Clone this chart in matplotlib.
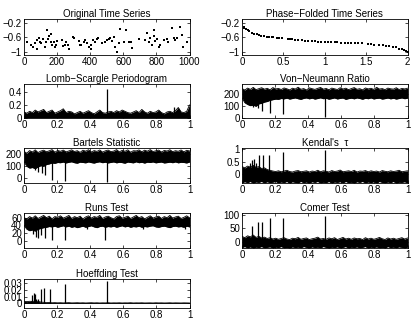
import matplotlib
matplotlib.use("Agg")
import matplotlib.pyplot as plt
import numpy as np

plt.rcParams['font.family'] = ['Liberation Sans', 'DejaVu Sans']
plt.rcParams['font.size'] = 7

# ---- data ----
# original time series (time, magnitude)
ts_t = [16, 20, 40, 56, 64, 76, 80, 90, 96, 104, 112, 124, 131, 137, 145, 151, 161, 165,
        171, 181, 187, 191, 201, 231, 237, 245, 251, 265, 271, 297, 305, 331, 341, 347,
        361, 371, 382, 392, 402, 406, 418, 432, 442, 448, 472, 492, 502, 512, 518, 532,
        542, 552, 562, 572, 582, 602, 618, 633, 647, 653, 693, 733, 743, 753, 763, 773,
        783, 787, 793, 803, 813, 823, 843, 863, 873, 894, 904, 914, 924, 944, 954, 960, 984]
ts_m = [-0.72, -0.72, -0.80, -0.86, -0.77, -0.68, -0.91, -0.61, -0.72, -0.77, -0.65, -0.86,
        -0.72, -0.40, -0.65, -0.56, -0.52, -0.74, -0.80, -0.72, -0.86, -0.82, -0.71, -0.68,
        -0.83, -0.82, -0.72, -0.80, -0.91, -0.59, -0.61, -0.71, -0.82, -0.80, -0.72, -0.68,
        -0.77, -0.86, -0.91, -0.80, -0.68, -0.72, -0.65, -0.63, -0.77, -0.74, -0.68, -0.65,
        -0.63, -0.71, -0.59, -0.86, -1.02, -0.77, -0.36, -0.74, -0.40, -0.72, -0.74, -0.89,
        -0.65, -0.68, -0.47, -0.72, -0.63, -0.82, -0.56, -0.40, -0.71, -0.65, -0.86, -0.80,
        -0.68, -0.65, -0.72, -0.34, -0.63, -0.68, -0.61, -0.31, -0.54, -0.86, -0.74]

# phase-folded series
pf_x = [0.02, 0.03, 0.05, 0.07, 0.09, 0.12, 0.15, 0.18, 0.20, 0.23, 0.26, 0.30, 0.33, 0.36,
        0.38, 0.42, 0.45, 0.48, 0.55, 0.58, 0.61, 0.64, 0.68, 0.72, 0.76, 0.80, 0.84, 0.88,
        0.92, 0.96, 1.00, 1.04, 1.08, 1.12, 1.15, 1.20, 1.24, 1.28, 1.32, 1.36, 1.40, 1.45,
        1.52, 1.56, 1.60, 1.66, 1.70, 1.74, 1.78, 1.82, 1.86, 1.90, 1.93, 1.96, 1.98, 2.00]
pf_y = [-0.30, -0.33, -0.37, -0.40, -0.43, -0.47, -0.50, -0.52, -0.54, -0.55, -0.56, -0.58,
        -0.59, -0.60, -0.60, -0.61, -0.62, -0.62, -0.65, -0.66, -0.66, -0.67, -0.68, -0.68,
        -0.69, -0.70, -0.70, -0.71, -0.72, -0.72, -0.72, -0.73, -0.73, -0.74, -0.74, -0.75,
        -0.75, -0.76, -0.76, -0.76, -0.77, -0.77, -0.78, -0.79, -0.80, -0.81, -0.82, -0.83,
        -0.85, -0.86, -0.88, -0.91, -0.93, -0.96, -0.99, -1.02]

# noisy periodograms: upper / lower edge of the black band, evenly spaced in frequency
ls_hi = [0.09, 0.07, 0.10, 0.08, 0.12, 0.09, 0.11, 0.13, 0.08, 0.10, 0.12, 0.07, 0.09, 0.11, 0.14,
         0.08, 0.10, 0.09, 0.06, 0.08, 0.10, 0.07, 0.09, 0.11, 0.08, 0.06, 0.09, 0.12, 0.08, 0.07,
         0.09, 0.10, 0.08, 0.11, 0.09, 0.12, 0.10, 0.08, 0.07, 0.09, 0.11, 0.08, 0.13, 0.09, 0.07,
         0.10, 0.08, 0.09, 0.12, 0.08, 0.06, 0.09, 0.10, 0.08, 0.11, 0.16, 0.09, 0.08, 0.10, 0.20]
ls_lo = [0.0] * 60
ls_sf, ls_sv = [0.5, 0.905], [0.45, 0.17]

vn_hi = [248, 236, 252, 241, 258, 239, 247, 255, 243, 250, 238, 256, 245, 249, 240, 253, 246, 237,
         251, 244, 259, 242, 248, 236, 254, 247, 241, 250, 257, 243, 249, 238, 252, 246, 240, 255,
         244, 251, 239, 248, 256, 242, 247, 237, 253, 245, 250, 241, 258, 244, 248, 239, 252, 246,
         243, 255, 240, 249, 245, 251]
vn_lo = [170, 130, 115, 105, 110, 100, 120, 125, 135, 140, 150, 155, 160, 158, 165, 162, 168, 160,
         165, 170, 163, 158, 166, 170, 162, 168, 160, 165, 171, 163, 167, 159, 164, 170, 161, 166,
         169, 158, 164, 168, 162, 170, 165, 159, 167, 163, 170, 161, 166, 168, 160, 164, 169, 162,
         167, 160, 165, 170, 163, 168]
vn_sf, vn_sv = [0.066, 0.097, 0.123, 0.168, 0.25, 0.50], [95, 83, 60, 47, 38, 15]

ba_hi = [225, 210, 232, 220, 238, 215, 228, 235, 222, 230, 240, 218, 233, 226, 236, 221, 229, 238,
         224, 231, 217, 235, 227, 239, 220, 232, 225, 237, 219, 230, 236, 223, 228, 240, 221, 234,
         226, 238, 218, 231, 229, 237, 222, 235, 227, 240, 224, 230, 236, 220, 233, 228, 239, 223,
         231, 226, 237, 221, 234, 229]
ba_lo = [140, 100, 85, 90, 80, 95, 105, 100, 115, 120, 128, 125, 132, 130, 136, 128, 134, 138,
         130, 126, 135, 132, 129, 137, 131, 127, 134, 138, 130, 135, 128, 133, 137, 129, 134, 131,
         126, 136, 132, 129, 138, 130, 134, 127, 135, 132, 137, 129, 133, 136, 128, 131, 135, 130,
         137, 129, 134, 132, 128, 136]
ba_sf, ba_sv = [0.067, 0.087, 0.107, 0.128, 0.172, 0.25, 0.50], [70, 55, 40, 30, -15, -20, -35]

ke_hi = [0.30, 0.25, 0.32, 0.28, 0.35, 0.27, 0.30, 0.22, 0.25, 0.18, 0.15, 0.12, 0.10, 0.13, 0.09,
         0.12, 0.15, 0.10, 0.08, 0.12, 0.14, 0.09, 0.11, 0.13, 0.08, 0.12, 0.10, 0.15, 0.09, 0.13,
         0.11, 0.08, 0.14, 0.10, 0.12, 0.16, 0.09, 0.11, 0.13, 0.10, 0.15, 0.08, 0.12, 0.11, 0.14,
         0.09, 0.13, 0.10, 0.12, 0.08, 0.14, 0.11, 0.09, 0.13, 0.10, 0.12, 0.15, 0.09, 0.11, 0.13]
ke_lo = [-0.36, -0.31, -0.35, -0.30, -0.37, -0.32, -0.34, -0.30, -0.36, -0.31, -0.35, -0.33,
         -0.30, -0.36, -0.32, -0.35, -0.30, -0.37, -0.31, -0.34, -0.36, -0.30, -0.35, -0.32,
         -0.37, -0.31, -0.34, -0.30, -0.36, -0.33, -0.35, -0.30, -0.37, -0.32, -0.34, -0.31,
         -0.36, -0.30, -0.35, -0.33, -0.37, -0.31, -0.34, -0.30, -0.36, -0.32, -0.35, -0.31,
         -0.37, -0.30, -0.34, -0.36, -0.32, -0.35, -0.30, -0.37, -0.33, -0.34, -0.31, -0.36]
ke_sf = [0.05, 0.06, 0.075, 0.085, 0.105, 0.125, 0.165, 0.25, 0.50]
ke_sv = [0.45, 0.58, 0.62, 0.45, 0.75, 0.78, 0.78, 0.90, 0.97]

ru_hi = [60, 57, 63, 59, 65, 58, 62, 66, 60, 64, 57, 63, 61, 65, 59, 62, 66, 58, 63, 60, 64, 57,
         62, 65, 59, 63, 61, 66, 58, 62, 64, 60, 57, 63, 65, 59, 61, 64, 58, 62, 66, 60, 63, 57,
         61, 65, 59, 62, 64, 58, 63, 60, 66, 59, 62, 64, 58, 61, 65, 60]
ru_lo = [40, 30, 26, 28, 25, 30, 32, 34, 35, 37, 36, 38, 35, 37, 39, 36, 38, 35, 37, 34, 36, 38,
         35, 37, 39, 36, 34, 37, 38, 35, 37, 36, 38, 35, 37, 39, 36, 38, 35, 37, 36, 38, 35, 37,
         36, 38, 39, 36, 35, 37, 38, 36, 34, 37, 38, 36, 37, 35, 38, 36]
ru_sf = [0.057, 0.071, 0.087, 0.10, 0.128, 0.172, 0.25, 0.49, 0.38, 0.72, 0.97]
ru_sv = [17, 11, 7, 15, 7, 3, 3, 3, 30, 30, 30]

co_hi = [20, 15, 22, 18, 25, 16, 20, 14, 17, 12, 15, 10, 13, 9, 12, 15, 10, 8, 13, 11, 16, 9, 12,
         14, 8, 11, 13, 17, 10, 12, 9, 14, 11, 15, 8, 12, 16, 10, 13, 9, 14, 11, 12, 8, 15, 10, 13,
         9, 12, 16, 11, 8, 14, 10, 13, 9, 12, 15, 10, 14]
co_lo = [-22, -18, -23, -19, -24, -20, -22, -18, -23, -21, -19, -24, -20, -22, -18, -23, -21, -24,
         -19, -22, -20, -23, -18, -21, -24, -19, -22, -20, -23, -18, -21, -24, -20, -22, -19, -23,
         -21, -18, -24, -20, -22, -19, -23, -21, -18, -24, -20, -22, -19, -23, -21, -24, -18, -22,
         -20, -23, -19, -21, -24, -20]
co_sf, co_sv = [0.062, 0.097, 0.123, 0.168, 0.25, 0.50], [59, 75, 75, 90, 88, 97]

ho_hi = [0.003, 0.0025, 0.003, 0.0028, 0.0032, 0.003, 0.0018, 0.0015, 0.001, 0.0012, 0.0008,
         0.001, 0.0007, 0.0009, 0.0006, 0.0008, 0.001, 0.0006, 0.0007, 0.0009, 0.0006, 0.0008,
         0.0005, 0.0007, 0.0009, 0.0006, 0.0008, 0.0005, 0.0007, 0.0006, 0.0009, 0.0005, 0.0007,
         0.0006, 0.0008, 0.0005, 0.0007, 0.0006, 0.0009, 0.0005, 0.0007, 0.0006, 0.0008, 0.0005,
         0.0006, 0.0007, 0.0005, 0.0008, 0.0006, 0.0007, 0.0005, 0.0006, 0.0008, 0.0005, 0.0007,
         0.0006, 0.0005, 0.0007, 0.0006, 0.0005]
ho_lo = [0.0] * 60
ho_sf = [0.04, 0.05, 0.06, 0.065, 0.075, 0.085, 0.10, 0.12, 0.16, 0.25, 0.50]
ho_sv = [0.004, 0.012, 0.016, 0.014, 0.007, 0.007, 0.022, 0.023, 0.022, 0.029, 0.033]

# ---- layout (pixel boxes of the reference) ----
W, H = 415, 325
rows = [(19.3, 55), (84, 118.3), (148.3, 183.4), (213.3, 248.4), (279.3, 308.3)]
cols = [(24, 189.5), (242, 407.5)]

fig = plt.figure(figsize=(W / 100, H / 100), dpi=100)


def make_ax(r, c, title):
    top, bot = rows[r]
    lft, rgt = cols[c]
    ax = fig.add_axes([lft / W, 1 - bot / H, (rgt - lft) / W, (bot - top) / H])
    ax.set_title(title, fontsize=7, pad=1.5)
    ax.tick_params(direction='in', length=2, width=0.5, top=True, right=True,
                   labelsize=7, pad=1.5)
    for s in ax.spines.values():
        s.set_linewidth(0.6)
    return ax


def band(ax, hi, lo, sf, sv, base):
    f = np.linspace(0, 1, len(hi))
    ax.fill_between(f, lo, hi, color='k', lw=0)
    ax.plot(f, hi, color='k', lw=0.6)
    ax.plot(f, lo, color='k', lw=0.6)
    ax.vlines(sf, base, sv, color='k', lw=0.9)
    ax.set_xlim(0, 1)
    ax.set_xticks([0, 0.2, 0.4, 0.6, 0.8, 1], ['0', '0.2', '0.4', '0.6', '0.8', '1'])


m = '\u2212'
ax = make_ax(0, 0, 'Original Time Series')
ax.plot(ts_t, ts_m, 'ks', ms=1.6, mew=0)
ax.set_xlim(0, 1000)
ax.set_ylim(-1.09, -0.1)
ax.set_xticks([0, 200, 400, 600, 800, 1000])
ax.set_yticks([-1, -0.6, -0.2], [m + '1', m + '0.6', m + '0.2'])

ax = make_ax(0, 1, 'Phase' + m + 'Folded Time Series')
ax.plot(pf_x, pf_y, 'ks', ms=1.6, mew=0)
ax.set_xlim(0, 2)
ax.set_ylim(-1.09, -0.1)
ax.set_xticks([0, 0.5, 1, 1.5, 2], ['0', '0.5', '1', '1.5', '2'])
ax.set_yticks([-1, -0.6, -0.2], [m + '1', m + '0.6', m + '0.2'])

ax = make_ax(1, 0, 'Lomb' + m + 'Scargle Periodogram')
band(ax, ls_hi, ls_lo, ls_sf, ls_sv, 0)
ax.set_ylim(-0.01, 0.53)
ax.set_yticks([0, 0.2, 0.4], ['0', '0.2', '0.4'])

ax = make_ax(1, 1, 'Von' + m + 'Neumann Ratio')
band(ax, vn_hi, vn_lo, vn_sf, vn_sv, 200)
ax.set_ylim(0, 286)
ax.set_yticks([0, 100, 200])

ax = make_ax(2, 0, 'Bartels Statistic')
band(ax, ba_hi, ba_lo, ba_sf, ba_sv, 180)
ax.set_ylim(-43, 251)
ax.set_yticks([0, 100, 200])

ax = make_ax(2, 1, "Kendal's  \u03c4")
band(ax, ke_hi, ke_lo, ke_sf, ke_sv, 0)
ax.set_ylim(-0.38, 1.04)
ax.set_yticks([0, 0.5, 1], ['0', '0.5', '1'])

ax = make_ax(3, 0, 'Runs Test')
band(ax, ru_hi, ru_lo, ru_sf, ru_sv, 45)
ax.set_ylim(-20, 71.5)
ax.set_yticks([0, 20, 40, 60])

ax = make_ax(3, 1, 'Comer Test')
band(ax, co_hi, co_lo, co_sf, co_sv, 0)
ax.set_ylim(-25, 106)
ax.set_yticks([0, 50, 100])

ax = make_ax(4, 0, 'Hoeffding Test')
band(ax, ho_hi, ho_lo, ho_sf, ho_sv, 0)
ax.set_ylim(-0.0075, 0.036)
ax.set_yticks([0, 0.01, 0.02, 0.03], ['0', '0.01', '0.02', '0.03'])

fig.savefig('out.png', dpi=100)
